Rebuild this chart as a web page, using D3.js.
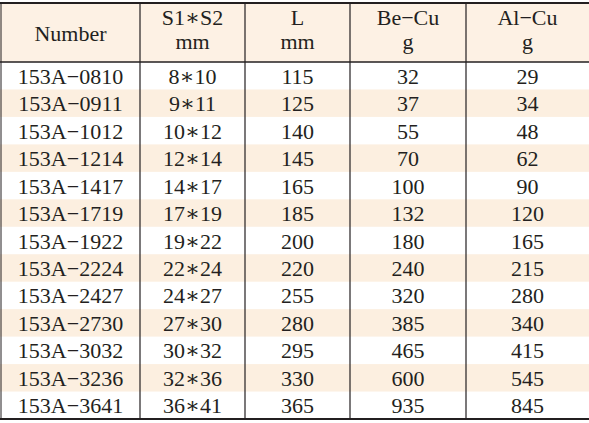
<!DOCTYPE html>
<html>
<head>
<meta charset="UTF-8">
<script src="https://d3js.org/d3.v7.min.js"></script>
<style>
  body { margin: 0; background: #fff; }
  text { font-family: "Liberation Serif", "DejaVu Serif", serif; fill: #231f20; }
</style>
</head>
<body>
<svg width="589" height="423"></svg>
<script>
// table data
const headers = [["Number"], ["S1\u2217S2", "mm"], ["L", "mm"], ["Be\u2212Cu", "g"], ["Al\u2212Cu", "g"]];
const numbers = ["153A\u22120810","153A\u22120911","153A\u22121012","153A\u22121214","153A\u22121417","153A\u22121719",
  "153A\u22121922","153A\u22122224","153A\u22122427","153A\u22122730","153A\u22123032","153A\u22123236","153A\u22123641"];
const sizes = ["8\u221710","9\u221711","10\u221712","12\u221714","14\u221717","17\u221719","19\u221722","22\u221724",
  "24\u221727","27\u221730","30\u221732","32\u221736","36\u221741"];
const lengths = [115,125,140,145,165,185,200,220,255,280,295,330,365];
const beCu = [32,37,55,70,100,132,180,240,320,385,465,600,935];
const alCu = [29,34,48,62,90,120,165,215,280,340,415,545,845];

const svg = d3.select("svg");
const colEdges = [1, 140, 245, 350, 466, 589];
const tableTop = 3, headBottom = 62, tableBottom = 419;

const rows = d3.scaleBand().domain(d3.range(numbers.length)).range([headBottom, tableBottom]);
const cx = i => (colEdges[i] + colEdges[i + 1]) / 2;

// header background
svg.append("rect").attr("x", 0).attr("y", tableTop).attr("width", 589).attr("height", headBottom - tableTop).attr("fill", "#fdf1e4");
// stripes
svg.selectAll(".stripe").data(d3.range(numbers.length).filter(i => i % 2 === 1)).enter()
  .append("rect").attr("x", 0).attr("y", i => rows(i)).attr("width", 589).attr("height", rows.bandwidth())
  .attr("fill", "#fcefe0");

// header text
headers.forEach((h, i) => {
  const t = svg.append("text").attr("x", cx(i)).attr("text-anchor", "middle").attr("font-size", 22);
  if (h.length === 1) t.attr("y", (tableTop + headBottom) / 2 + 8).text(h[0]);
  else h.forEach((s, k) => t.append("tspan").attr("x", cx(i)).attr("y", 25 + k * 24).text(s));
});

// body
const table = numbers.map((n, i) => [n, sizes[i], lengths[i], beCu[i], alCu[i]]);
table.forEach((r, i) => {
  r.forEach((v, j) => {
    svg.append("text").attr("x", cx(j)).attr("y", rows(i) + rows.bandwidth() / 2 + 8)
      .attr("text-anchor", "middle").attr("font-size", 22).text(v);
  });
});

// lines
const line = (x1, y1, x2, y2, w) => svg.append("line").attr("x1", x1).attr("y1", y1).attr("x2", x2).attr("y2", y2)
  .attr("stroke", "#231f20").attr("stroke-width", w);
line(0, tableTop, 589, tableTop, 2);
line(0, headBottom, 589, headBottom, 1.5);
line(0, tableBottom, 589, tableBottom, 2);
line(1, tableTop, 1, tableBottom, 1);
colEdges.slice(1, 5).forEach(x => line(x, tableTop, x, tableBottom, 1.2));
</script>
</body>
</html>
